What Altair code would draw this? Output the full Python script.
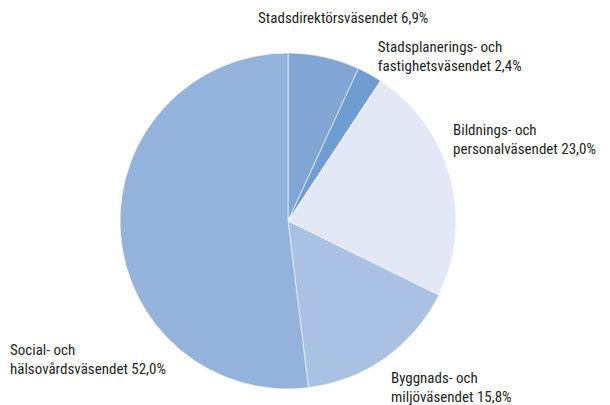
import altair as alt
import pandas as pd

labels = [
    "Stadsdirektörsväsendet 6,9%",
    "Stadsplanerings- och\nfastighetsväsendet 2,4%",
    "Bildnings- och\npersonalväsendet 23,0%",
    "Byggnads- och\nmiljöväsendet 15,8%",
    "Social- och\nhälsovårdsväsendet 52,0%",
]
values = [6.9, 2.4, 23.0, 15.8, 52.0]
colors = ["#81a6d4", "#6f9dd1", "#e2e8f5", "#a9c1e3", "#93b2dc"]

df = pd.DataFrame({"label": labels, "value": values, "idx": list(range(len(labels)))})

R = 168
LR = 185
FONT = "Roboto Condensed, Roboto, sans-serif"

base = alt.Chart(df)

pie = base.mark_arc(radius=R, stroke="white", strokeWidth=0.6).encode(
    theta=alt.Theta("value:Q", stack=True),
    color=alt.Color("label:N", sort=None, scale=alt.Scale(domain=labels, range=colors), legend=None),
    order=alt.Order("idx:Q"),
)

offsets = [(-69.7, -29.8), (-0.3, -19.0), (-13.6, -49.3), (-3.9, -1.5), (-93.3, 111.5)]

layers = [pie]
for lab, (dx, dy) in zip(labels, offsets):
    t = (
        base.transform_window(cum="sum(value)", sort=[alt.SortField("idx")], frame=[None, 0])
        .transform_calculate(mid="datum.cum - datum.value / 2")
        .transform_filter(alt.datum.label == lab)
        .mark_text(
            radius=LR, dx=dx, dy=dy, align="left", baseline="top",
            font=FONT, fontSize=15, lineHeight=19, lineBreak="\n", color="#231f20",
        )
        .encode(
            theta=alt.Theta("mid:Q", stack=None, scale=alt.Scale(domain=[0, 100], range=[0, 6.283185307])),
            text="label:N",
        )
    )
    layers.append(t)

chart = (
    alt.layer(*layers)
    .properties(width=560, height=340, padding={"left": 0, "top": 43, "right": 34, "bottom": 14},
                autosize=alt.AutoSizeParams(type="none"))
    .configure_view(stroke=None)
    .resolve_scale(theta="independent")
)

chart.save("out.html", embed_options={"renderer": "svg", "actions": False})
